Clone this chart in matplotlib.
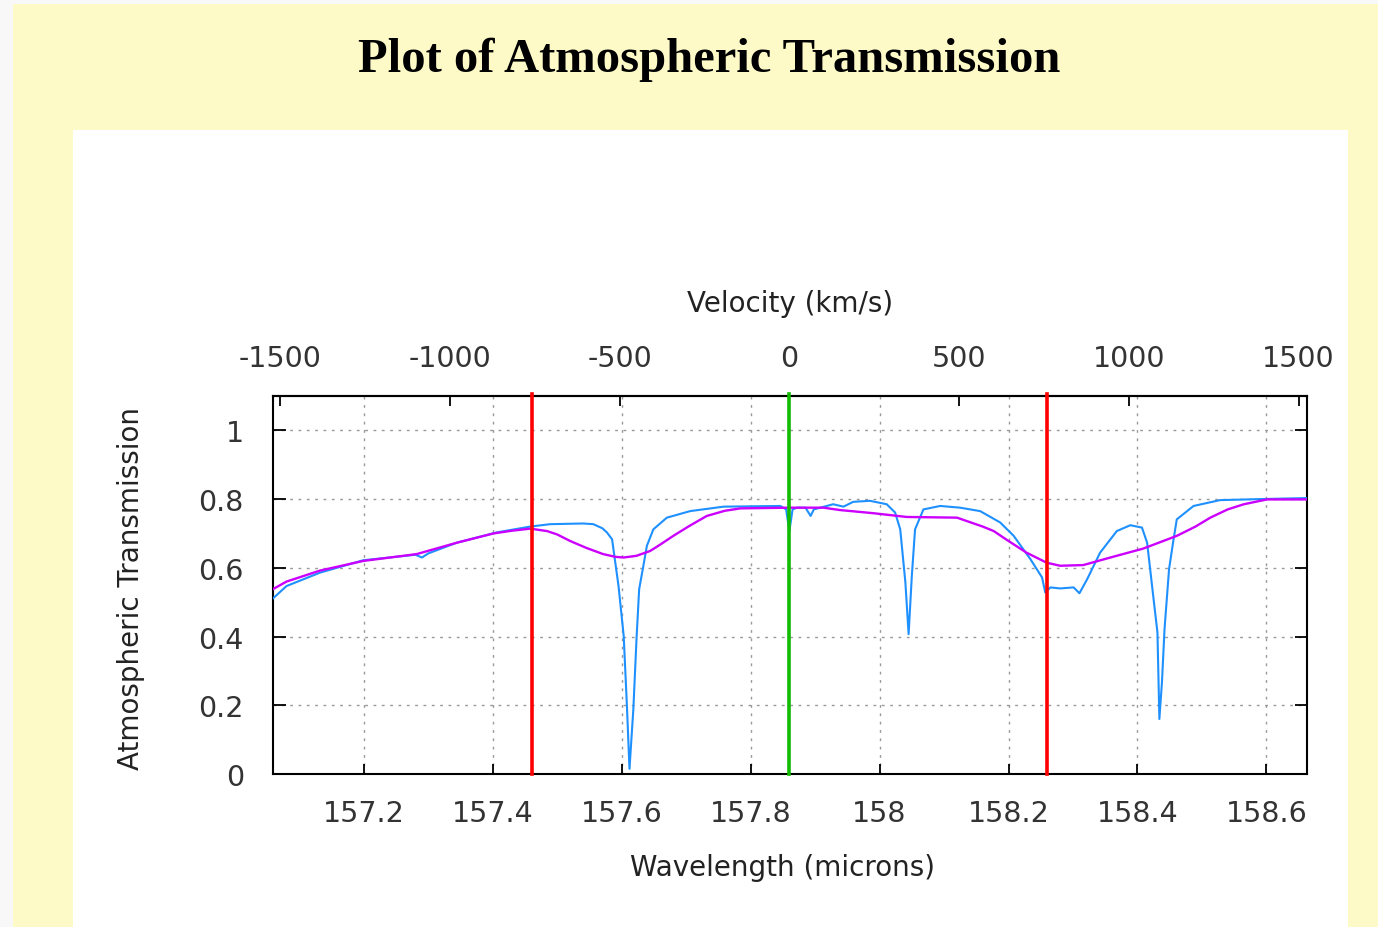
import matplotlib
matplotlib.use("Agg")
import matplotlib.pyplot as plt
import numpy as np
from matplotlib.patches import Rectangle

# ---------------- data ----------------
center_wavelength = 157.86      # microns (velocity zero)
c_kms = 299792.458
red_lines = [157.46, 158.26]
green_line = [157.86]

# smoothed transmission (magenta)
smooth_wl = [157.059, 157.080, 157.132, 157.199, 157.282, 157.344, 157.401, 157.430,
             157.458, 157.484, 157.500, 157.520, 157.545, 157.571, 157.590, 157.603,
             157.623, 157.644, 157.660, 157.680, 157.705, 157.732, 157.760, 157.784,
             157.861, 157.913, 157.939, 157.990, 158.042, 158.120, 158.140, 158.160,
             158.177, 158.200, 158.228, 158.259, 158.280, 158.316, 158.358, 158.409,
             158.461, 158.490, 158.513, 158.540, 158.565, 158.601, 158.663]
smooth_tr = [0.538, 0.560, 0.592, 0.620, 0.640, 0.673, 0.700, 0.708,
             0.714, 0.707, 0.697, 0.678, 0.658, 0.640, 0.632, 0.630,
             0.635, 0.649, 0.668, 0.693, 0.722, 0.751, 0.766, 0.773,
             0.775, 0.775, 0.768, 0.759, 0.748, 0.746, 0.733, 0.720,
             0.707, 0.678, 0.644, 0.615, 0.606, 0.608, 0.630, 0.656,
             0.693, 0.720, 0.746, 0.770, 0.785, 0.799, 0.799]

# full-resolution transmission (blue)
fine_wl = [157.059, 157.080, 157.132, 157.199, 157.280, 157.290, 157.300, 157.344,
           157.406, 157.458, 157.489, 157.540, 157.556, 157.570, 157.577, 157.585, 157.595,
           157.603, 157.608, 157.612, 157.618, 157.623, 157.627, 157.633, 157.639,
           157.649, 157.670, 157.706, 157.758, 157.846, 157.855, 157.860, 157.865,
           157.872, 157.885, 157.890, 157.893, 157.898, 157.928, 157.944, 157.959,
           157.985, 158.011, 158.024, 158.032, 158.040, 158.045, 158.050, 158.055,
           158.068, 158.094, 158.125, 158.156, 158.187, 158.208, 158.234, 158.252,
           158.257, 158.265, 158.280, 158.301, 158.310, 158.322, 158.342, 158.368,
           158.389, 158.407, 158.415, 158.425, 158.431, 158.434, 158.438, 158.442,
           158.449, 158.456, 158.461, 158.487, 158.528, 158.590, 158.663]
fine_tr = [0.511, 0.547, 0.586, 0.622, 0.638, 0.630, 0.642, 0.673,
           0.703, 0.720, 0.727, 0.729, 0.727, 0.715, 0.703, 0.683, 0.547,
           0.402, 0.199, 0.015, 0.189, 0.397, 0.538, 0.600, 0.664,
           0.712, 0.746, 0.765, 0.778, 0.780, 0.770, 0.707, 0.770,
           0.775, 0.775, 0.760, 0.751, 0.770, 0.785, 0.778, 0.792,
           0.795, 0.785, 0.761, 0.712, 0.557, 0.407, 0.577, 0.712,
           0.770, 0.780, 0.775, 0.765, 0.732, 0.693, 0.625, 0.572,
           0.528, 0.543, 0.540, 0.543, 0.526, 0.567, 0.644, 0.707,
           0.724, 0.717, 0.673, 0.509, 0.412, 0.160, 0.267, 0.422,
           0.596, 0.683, 0.741, 0.780, 0.797, 0.800, 0.803]

x_ticks = [157.2, 157.4, 157.6, 157.8, 158.0, 158.2, 158.4, 158.6]
x_tick_labels = ["157.2", "157.4", "157.6", "157.8", "158", "158.2", "158.4", "158.6"]
y_ticks = [0, 0.2, 0.4, 0.6, 0.8, 1.0]
y_tick_labels = ["0", "0.2", "0.4", "0.6", "0.8", "1"]
v_ticks = [-1500, -1000, -500, 0, 500, 1000, 1500]
v_tick_labels = ["-1500", "-1000", "-500", "0", "500", "1000", "1500"]

# ---------------- figure ----------------
W, H = 1378, 928
fig = plt.figure(figsize=(W / 100, H / 100), dpi=100)
fig.patch.set_facecolor("#f8f8f9")
# yellow page and white panel
fig.patches.append(Rectangle((13 / W, 0), 1 - 13 / W, 1 - 5 / H, transform=fig.transFigure,
                             facecolor="#fefac8", edgecolor="none", zorder=-2))
fig.patches.append(Rectangle((73 / W, 0), (1348 - 73) / W, 1 - 131 / H, transform=fig.transFigure,
                             facecolor="white", edgecolor="none", zorder=-1))

fig.text(709.5 / W, 1 - 60 / H, "Plot of Atmospheric Transmission",
         ha="center", va="center", fontsize=35, fontweight="bold",
         family="Liberation Serif", color="black")

ax_l, ax_r, ax_t, ax_b = 273, 1307, 397, 775
ax = fig.add_axes([ax_l / W, 1 - ax_b / H, (ax_r - ax_l) / W, (ax_b - ax_t) / H])
ax.set_facecolor("white")

ax.plot(fine_wl, fine_tr, color="#1e90ff", lw=1.5, zorder=3)
ax.plot(smooth_wl, smooth_tr, color="#cc00ff", lw=1.7, zorder=4)
for wl in red_lines:
    ax.axvline(wl, color="#ff0000", lw=2.6, zorder=5, ymax=1.005, clip_on=False)
for wl in green_line:
    ax.axvline(wl, color="#11bb00", lw=2.6, zorder=5, ymax=1.005, clip_on=False)

ax.set_xlim(157.059, 158.663)
ax.set_ylim(0, 1.1)
ax.set_xticks(x_ticks)
ax.set_xticklabels(x_tick_labels)
ax.set_yticks(y_ticks)
ax.set_yticklabels(y_tick_labels)

ax.grid(True, color="#999999", linestyle=(0, (2, 4)), lw=1.0, zorder=1)

ax.tick_params(axis="x", direction="in", length=7, width=1.3, labelsize=20.5, pad=18,
               top=False, colors="black", labelcolor="#333333")
ax.tick_params(axis="y", direction="in", length=9, width=1.3, labelsize=20.5, pad=21,
               right=True, colors="black", labelcolor="#333333")
for s in ax.spines.values():
    s.set_linewidth(1.5)
    s.set_color("black")

ax.set_xlabel("Wavelength (microns)", fontsize=20, color="#222222")
ax.xaxis.label.set_va("center")
ax.xaxis.set_label_coords((783 - ax_l) / (ax_r - ax_l), -(868 - ax_b) / (ax_b - ax_t))
ax.set_ylabel("Atmospheric Transmission", fontsize=20, color="#222222")
ax.yaxis.label.set_va("center")
ax.yaxis.set_label_coords(-(ax_l - 131) / (ax_r - ax_l), (ax_b - 589) / (ax_b - ax_t))


def wl2v(wl):
    return (np.asarray(wl) - center_wavelength) / center_wavelength * c_kms


def v2wl(v):
    return center_wavelength * (1 + np.asarray(v) / c_kms)


sec = ax.secondary_xaxis("top", functions=(wl2v, v2wl))
sec.set_xticks(v_ticks)
sec.set_xticklabels(v_tick_labels)
sec.tick_params(direction="in", length=7, width=1.3, labelsize=20.5, pad=17,
                colors="black", labelcolor="#333333")
sec.spines["top"].set_linewidth(1.5)
sec.set_xlabel("Velocity (km/s)", fontsize=20, color="#222222", labelpad=24)

fig.savefig("out.png", dpi=100, facecolor=fig.get_facecolor())
